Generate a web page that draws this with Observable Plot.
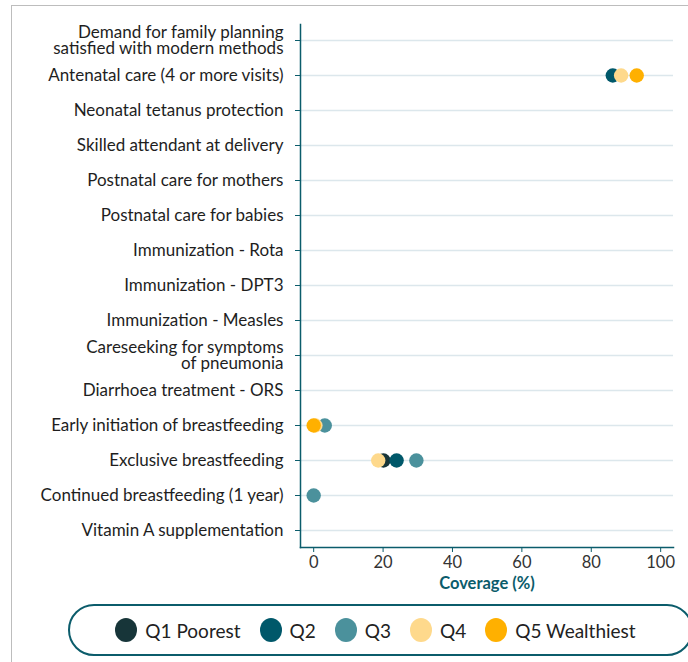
<!DOCTYPE html>
<html>
<head>
<meta charset="utf-8">
<script src="https://cdn.jsdelivr.net/npm/d3@7"></script>
<script src="https://cdn.jsdelivr.net/npm/@observablehq/plot@0.6"></script>
<style>
  html, body { margin: 0; padding: 0; background: #fff; }
  body { width: 688px; height: 662px; position: relative; overflow: hidden; font-family: Lato, "Open Sans", sans-serif; }
  #frame { position: absolute; left: 11px; top: 5px; width: 700px; height: 700px; border-left: 1.5px solid #bdbdbd; border-top: 1.5px solid #bdbdbd; }
  #chart { position: absolute; left: 0; top: 0; }
  #legend { position: absolute; left: 68px; top: 604px; width: 611px; height: 48px; border: 2px solid #0b5c6b; border-radius: 26px;
            display: flex; align-items: center; justify-content: center; font-size: 19px; color: #222; padding-right: 10px; box-sizing: content-box; }
  .item { display: flex; align-items: center; margin: 0 9.5px; }
  .sw { width: 22px; height: 24px; border-radius: 50%; margin-right: 8px; }
</style>
</head>
<body>
<div id="frame"></div>
<div id="chart"></div>
<div id="legend"></div>
<script>
const categories = [
  "Demand for family planning\nsatisfied with modern methods",
  "Antenatal care (4 or more visits)",
  "Neonatal tetanus protection",
  "Skilled attendant at delivery",
  "Postnatal care for mothers",
  "Postnatal care for babies",
  "Immunization - Rota",
  "Immunization - DPT3",
  "Immunization - Measles",
  "Careseeking for symptoms\nof pneumonia",
  "Diarrhoea treatment - ORS",
  "Early initiation of breastfeeding",
  "Exclusive breastfeeding",
  "Continued breastfeeding (1 year)",
  "Vitamin A supplementation"
];
const seriesNames = ["Q1 Poorest", "Q2", "Q3", "Q4", "Q5 Wealthiest"];
const seriesColors = ["#173539", "#00586a", "#4b919c", "#fed98c", "#ffb000"];
// values per series, aligned with categories (null = no data)
const q1 = [null, null, null, null, null, null, null, null, null, null, null, null, 20.1, null, null];
const q2 = [null, 86.2, null, null, null, null, null, null, null, null, null, null, 23.9, null, null];
const q3 = [null, null, null, null, null, null, null, null, null, null, null, 3.2, 29.6, 0, null];
const q4 = [null, 88.6, null, null, null, null, null, null, null, null, null, 0.5, 18.6, null, null];
const q5 = [null, 93.1, null, null, null, null, null, null, null, null, null, 0, null, null, null];
const xTicks = [0, 20, 40, 60, 80, 100];
const xDomain = [-3.8, 103.7];

const seriesValues = [q1, q2, q3, q4, q5];
const rows = [];
seriesValues.forEach((vals, si) => {
  vals.forEach((v, ci) => {
    if (v != null) rows.push({category: categories[ci], series: seriesNames[si], value: v});
  });
});

const teal = "#0b5c6b";
const chart = Plot.plot({
  width: 688,
  height: 600,
  marginLeft: 300,
  marginRight: 15,
  marginTop: 24,
  marginBottom: 53,
  style: {fontFamily: "Lato, 'Open Sans', sans-serif", fontSize: "17px", color: "#222", background: "transparent", overflow: "visible"},
  x: {domain: xDomain, ticks: xTicks},
  y: {type: "point", domain: categories, padding: 0, insetTop: 12.8, insetBottom: 13.2},
  color: {domain: seriesNames, range: seriesColors},
  marks: [
    Plot.gridY({stroke: "#dce7ec", strokeOpacity: 1, strokeWidth: 1.6}),
    Plot.frame({anchor: "left", stroke: teal, strokeWidth: 1.5}),
    Plot.frame({anchor: "bottom", stroke: teal, strokeWidth: 1.5}),
    Plot.axisY({tickSize: 5, tickPadding: 12, stroke: teal, fill: "#1e1e1e", fontSize: 17, lineHeight: 0.98, label: null}),
    Plot.axisX({tickSize: 5, tickPadding: 4, stroke: teal, fill: "#333", fontSize: 16.5, label: null, ticks: xTicks}),
    Plot.text(["Coverage (%)"], {frameAnchor: "bottom", dy: 41, fontWeight: "bold", fill: teal, fontSize: 16.5}),
    Plot.dot(rows, {x: "value", y: "category", fill: "series", r: 7.2, stroke: null})
  ]
});
document.getElementById("chart").appendChild(chart);

const legend = document.getElementById("legend");
seriesNames.forEach((name, i) => {
  const it = document.createElement("div");
  it.className = "item";
  const sw = document.createElement("div");
  sw.className = "sw";
  sw.style.background = seriesColors[i];
  const lb = document.createElement("span");
  lb.textContent = name;
  it.appendChild(sw); it.appendChild(lb);
  legend.appendChild(it);
});
</script>
</body>
</html>
